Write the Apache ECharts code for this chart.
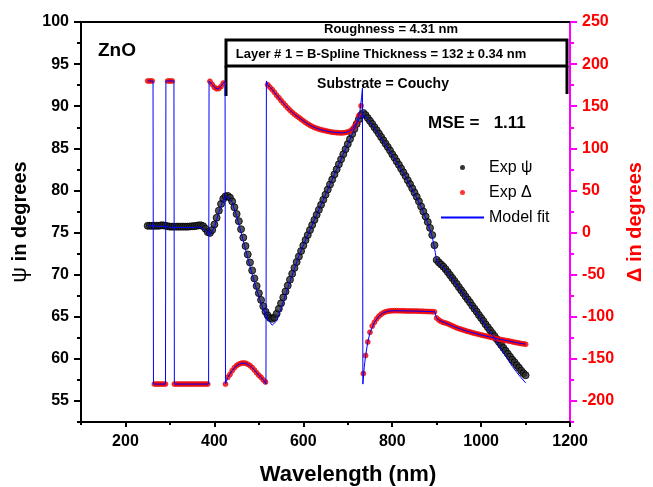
<!DOCTYPE html>
<html>
<head>
<meta charset="utf-8">
<script src="https://cdn.jsdelivr.net/npm/echarts@6/dist/echarts.min.js"></script>
<style>
  html, body { margin: 0; padding: 0; background: #fff; }
  #chart { width: 653px; height: 487px; }
</style>
</head>
<body>
<div id="chart"></div>
<script>
// wavelengths of the measured points (nm)
const wavelength = [
  250,255,260,265,270,275,280,285,290,295,300,305,310,315,320,325,330,335,340,345,
  350,355,360,365,370,375,380,385,390,395,400,405,410,415,420,425,430,435,440,445,
  450,455,460,465,470,475,480,485,490,495,500,505,510,515,520,525,530,535,540,545,
  550,555,560,565,570,575,580,585,590,595,600,605,610,615,620,625,630,635,640,645,
  650,655,660,665,670,675,680,685,690,695,700,705,710,715,720,725,730,735,740,745,
  750,755,760,765,770,775,780,785,790,795,800,805,810,815,820,825,830,835,840,845,
  850,855,860,865,870,875,880,885,890,895,900,905,910,915,920,925,930,935,940,945,
  950,955,960,965,970,975,980,985,990,995,1000,1005,1010,1015,1020,1025,1030,1035,1040,1045,
  1050,1055,1060,1065,1070,1075,1080,1085,1090,1095,1100
];
// Exp psi (deg, left axis)
const expPsi = [
  75.8,75.8,75.8,75.8,75.8,75.8,75.85,75.85,75.8,75.75,75.7,75.7,75.7,75.7,75.7,75.7,75.7,75.7,75.7,75.72,
  75.74,75.76,75.8,75.85,75.85,75.75,75.45,75.05,74.95,75.3,75.95,76.75,77.6,78.4,79.0,79.3,79.35,79.15,78.7,78.0,
  77.2,76.35,75.4,74.4,73.4,72.4,71.45,70.5,69.55,68.65,67.8,67.0,66.25,65.6,65.15,64.85,64.75,64.9,65.35,65.95,
  66.6,67.3,68.0,68.7,69.4,70.1,70.8,71.5,72.15,72.8,73.45,74.1,74.7,75.3,75.9,76.5,77.1,77.7,78.3,78.9,
  79.5,80.1,80.7,81.3,81.9,82.5,83.1,83.7,84.3,84.9,85.5,86.1,86.7,87.3,87.9,88.45,88.95,89.2,88.95,88.6,
  88.25,87.9,87.5,87.15,86.75,86.35,85.95,85.55,85.15,84.75,84.3,83.9,83.45,83.05,82.6,82.15,81.7,81.2,80.75,80.25,
  79.75,79.25,78.7,78.1,77.5,76.9,76.25,75.55,74.7,73.5,71.75,71.45,71.2,70.95,70.65,70.3,69.95,69.6,69.25,68.9,
  68.5,68.15,67.8,67.4,67.05,66.7,66.3,65.95,65.6,65.2,64.85,64.5,64.1,63.75,63.4,63.05,62.7,62.35,62.0,61.65,
  61.3,60.95,60.6,60.25,59.9,59.6,59.25,58.95,58.6,58.3,58.05
];
// Exp delta (deg, right axis)
const expDelta = [
  180,180,180,-180,-180,-180,-180,-180,-180,180,180,180,-180,-180,-180,-180,-180,-180,-180,-180,
  -180,-180,-180,-180,-180,-180,-180,-180,179.5,176,172.5,170.7,171,173.5,177.5,-180,-172,-168.5,-164,-160.5,
  -158,-156.3,-155.3,-154.8,-155.2,-156.3,-158,-160.3,-163.3,-166.5,-169.5,-172,-175,-177.5,175.5,172.5,169.8,166.5,163,160,
  156.8,153.7,150.7,147.9,145.3,142.7,140.5,138.5,136.6,134.6,132.6,130.7,129,127.4,126,124.8,123.7,122.8,122.1,121.4,
  120.8,120.2,119.7,119.2,118.9,118.6,118.4,118.3,118.4,118.8,119.5,120.5,122.5,126,130.5,139,150.5,-167.5,-146,-130,
  -118.5,-111,-106.5,-102.5,-99.3,-97,-95.3,-94.2,-93.5,-93.1,-92.9,-92.8,-92.8,-92.9,-93,-93,-93.1,-93.2,-93.2,-93.3,
  -93.3,-93.3,-93.4,-93.5,-93.6,-93.7,-93.8,-93.9,-94,-94.2,-101.5,-104,-105.6,-106.7,-107.5,-108.4,-109.5,-110.8,-112,-113.2,
  -114.1,-114.9,-115.8,-116.6,-117.4,-118.1,-118.9,-119.6,-120.3,-120.9,-121.6,-122.2,-122.8,-123.4,-124.1,-124.8,-125.4,-126,-126.6,-127.2,
  -127.7,-128.2,-128.6,-129.1,-129.7,-130.3,-130.8,-131.3,-131.8,-132.2,-132.6
];
// model fit, psi
const modelPsiWl = [
  250,260,270,280,290,300,310,320,330,340,350,360,370,380,390,400,410,420,430,440,
  450,460,470,480,490,500,510,520,530,540,550,560,570,580,590,600,610,620,630,640,
  650,660,670,680,690,700,710,720,730,740,750,760,770,780,790,800,810,820,830,840,
  850,860,870,880,890,897,900,910,920,930,940,950,960,970,980,990,1000,1010,1020,1030,
  1040,1050,1060,1070,1080,1090,1100
];
const modelPsi = [
  75.8,75.8,75.75,75.75,75.7,75.65,75.6,75.6,75.6,75.6,75.6,75.65,75.6,75.2,74.7,75.6,77.4,78.9,79.3,78.6,
  77.0,75.0,73.0,71.0,69.1,67.4,65.9,64.7,64.0,64.5,66.0,67.6,69.2,70.7,72.2,73.5,74.7,75.9,77.1,78.3,
  79.5,80.7,81.9,83.1,84.3,85.5,86.7,87.9,88.9,88.8,88.1,87.4,86.6,85.8,85.0,84.2,83.3,82.5,81.6,80.6,
  79.6,78.6,77.4,76.1,74.5,72.6,71.6,71.1,70.6,69.9,69.2,68.45,67.7,66.95,66.2,65.45,64.7,63.95,63.2,62.45,
  61.6,60.75,59.9,59.1,58.4,57.75,57.15
];
// model fit, delta
const modelDeltaWl = [
  250,262,263,290,291,309,310,387,388,390,395,400,405,410,415,420,424,425,430,440,
  450,460,470,480,490,500,510,516,517,520,530,540,550,560,570,580,590,600,610,620,
  630,640,650,660,670,680,690,700,710,720,727,731,733,734,737,740,745,750,760,770,
  780,790,800,820,840,860,880,896,899,905,920,940,960,980,1000,1020,1040,1060,1080,1100
];
const modelDelta = [
  180,180,-180,-180,180,180,-180,-180,180,179.5,176,172.5,170.7,171,173.5,177.5,180,-180,-172,-164,
  -158,-155.3,-155.2,-158,-163.3,-169.5,-175,-180,180,175.5,169.8,163,156.8,150.7,145.3,140.5,136.6,132.6,129,126,
  123.7,122.1,120.8,119.7,118.9,118.4,118.4,119.5,122.5,130.5,143,160,171.5,-180,-160,-147,-130,-119,-106.5,-99.3,
  -95.3,-93.5,-92.9,-93,-93.2,-93.4,-93.8,-94.2,-101,-104,-107.5,-112,-115.8,-118.9,-121.6,-124.1,-126.6,-128.6,-130.8,-132.6
];
// ticks
const xLabels = [200, 400, 600, 800, 1000, 1200];
const xMinor = [100, 300, 500, 700, 900, 1100];
const psiTicks = [55, 60, 65, 70, 75, 80, 85, 90, 95, 100];
const psiMinor = [52.5, 57.5, 62.5, 67.5, 72.5, 77.5, 82.5, 87.5, 92.5, 97.5];
const deltaTicks = [-200, -150, -100, -50, 0, 50, 100, 150, 200, 250];
const deltaMinor = [-225, -175, -125, -75, -25, 25, 75, 125, 175, 225];

const FONT = 'Arial, "Liberation Sans", sans-serif';
const BLUE = '#0000ff';
const zip = (a, b) => a.map((v, i) => [v, b[i]]);
const plain = v => String(v);

const chart = echarts.init(document.getElementById('chart'));

const minorAxis = (extra) => Object.assign({
  type: 'value',
  axisLine: { show: false, onZero: false },
  axisLabel: { show: false },
  splitLine: { show: false },
}, extra);

const option = {
  animation: false,
  backgroundColor: '#fff',
  textStyle: { fontFamily: FONT },
  grid: { left: 81, right: 81, top: 22, bottom: 65 },
  legend: {
    orient: 'vertical',
    left: 435,
    top: 153,
    itemWidth: 43,
    itemHeight: 5,
    itemGap: 6,
    textStyle: { fontSize: 16, color: '#000', fontFamily: FONT, lineHeight: 19 },
    data: [
      { name: 'Exp ψ', icon: 'circle', itemStyle: { color: '#000', borderWidth: 0 } },
      { name: 'Exp Δ', icon: 'circle', itemStyle: { color: '#ff0000', borderWidth: 0 } },
      // keep only the line of the line icon, hide its middle marker
      { name: 'Model fit', itemStyle: { opacity: 0 } }
    ]
  },
  xAxis: [
    {
      type: 'value', min: 100, max: 1200, interval: 100, position: 'bottom',
      axisLine: { onZero: false, lineStyle: { color: '#000', width: 2 } },
      axisTick: { customValues: xLabels, length: 5, lineStyle: { color: '#000', width: 2 } },
      axisLabel: { customValues: xLabels, formatter: plain, fontSize: 16, fontWeight: 'bold', color: '#000', margin: 12 },
      splitLine: { show: false }
    },
    minorAxis({ min: 100, max: 1200, position: 'bottom',
      axisTick: { customValues: xMinor, length: 3, lineStyle: { color: '#000', width: 2 } } }),
    {
      type: 'value', min: 100, max: 1200, position: 'top',
      axisLine: { onZero: false, lineStyle: { color: '#000', width: 2 } },
      axisTick: { show: false }, axisLabel: { show: false }, splitLine: { show: false }
    }
  ],
  yAxis: [
    {
      type: 'value', min: 52.5, max: 100, interval: 2.5, position: 'left',
      name: '{g|ψ} in degrees', nameLocation: 'middle', nameRotate: 90, nameGap: 50,
      nameTextStyle: { fontSize: 20, fontWeight: 'bold', color: '#000',
        rich: { g: { fontSize: 22, fontWeight: 'normal', color: '#000' } } },
      axisLine: { onZero: false, lineStyle: { color: '#000', width: 2 } },
      axisTick: { customValues: psiTicks, length: 7, lineStyle: { color: '#000', width: 2 } },
      axisLabel: { customValues: psiTicks, formatter: plain, fontSize: 16, fontWeight: 'bold', color: '#000', margin: 12 },
      splitLine: { show: false }
    },
    {
      type: 'value', min: -225, max: 250, interval: 25, position: 'right',
      name: 'Δ in degrees', nameLocation: 'middle', nameRotate: 90, nameGap: 52,
      nameTextStyle: { fontSize: 20, fontWeight: 'bold', color: '#ff0000' },
      axisLine: { onZero: false, lineStyle: { color: '#ff00ff', width: 2 } },
      axisTick: { customValues: deltaTicks, length: 7, lineStyle: { color: '#ff00ff', width: 2 } },
      axisLabel: { customValues: deltaTicks, formatter: plain, fontSize: 16, fontWeight: 'bold', color: '#ff0000', margin: 12 },
      splitLine: { show: false }
    },
    minorAxis({ min: 52.5, max: 100, position: 'left',
      axisTick: { customValues: psiMinor, length: 4, lineStyle: { color: '#000', width: 2 } } }),
    minorAxis({ min: -225, max: 250, position: 'right',
      axisTick: { customValues: deltaMinor, length: 4, lineStyle: { color: '#ff00ff', width: 2 } } })
  ],
  series: [
    {
      name: 'Exp ψ', type: 'scatter', yAxisIndex: 0, symbol: 'circle', symbolSize: 7,
      itemStyle: { color: '#2a2a2a', borderColor: '#000', borderWidth: 1 },
      data: zip(wavelength, expPsi)
    },
    {
      name: 'Exp Δ', type: 'scatter', yAxisIndex: 1, symbol: 'circle', symbolSize: 5,
      itemStyle: { color: '#ff0000', borderColor: '#e01010', borderWidth: 0.8 },
      data: zip(wavelength, expDelta)
    },
    {
      name: 'Model fit', type: 'line', yAxisIndex: 0, symbol: 'none', z: 5,
      lineStyle: { color: BLUE, width: 1 }, itemStyle: { color: BLUE },
      data: zip(modelPsiWl, modelPsi)
    },
    {
      name: 'Model fit', type: 'line', yAxisIndex: 1, symbol: 'none', z: 5,
      lineStyle: { color: BLUE, width: 1 }, itemStyle: { color: BLUE },
      data: zip(modelDeltaWl, modelDelta)
    }
  ],
  graphic: [
    { type: 'text', left: 98, top: 41, style: { text: 'ZnO', font: 'bold 19px ' + FONT, fill: '#000' } },
    { type: 'text', x: 391, y: 29, style: { text: 'Roughness = 4.31 nm', font: 'bold 13px ' + FONT, fill: '#000', textAlign: 'center', textVerticalAlign: 'middle' } },
    { type: 'rect', shape: { x: 226, y: 40, width: 341, height: 26 }, style: { fill: 'none', stroke: '#000', lineWidth: 3 } },
    { type: 'line', shape: { x1: 226, y1: 66, x2: 226, y2: 96 }, style: { stroke: '#000', lineWidth: 3 } },
    { type: 'line', shape: { x1: 567, y1: 66, x2: 567, y2: 94 }, style: { stroke: '#000', lineWidth: 3 } },
    { type: 'text', x: 381, y: 54, style: { text: 'Layer # 1 = B-Spline Thickness = 132 ± 0.34 nm', font: 'bold 13px ' + FONT, fill: '#000', textAlign: 'center', textVerticalAlign: 'middle' } },
    { type: 'text', x: 383, y: 84, style: { text: 'Substrate = Couchy', font: 'bold 14px ' + FONT, fill: '#000', textAlign: 'center', textVerticalAlign: 'middle' } },
    { type: 'text', x: 428, y: 123, style: { text: 'MSE =   1.11', font: 'bold 17px ' + FONT, fill: '#000', textAlign: 'left', textVerticalAlign: 'middle' } },
    { type: 'text', x: 348, y: 475, style: { text: 'Wavelength (nm)', font: 'bold 22px ' + FONT, fill: '#000', textAlign: 'center', textVerticalAlign: 'middle' } }
  ]
};

chart.setOption(option);
</script>
</body>
</html>
